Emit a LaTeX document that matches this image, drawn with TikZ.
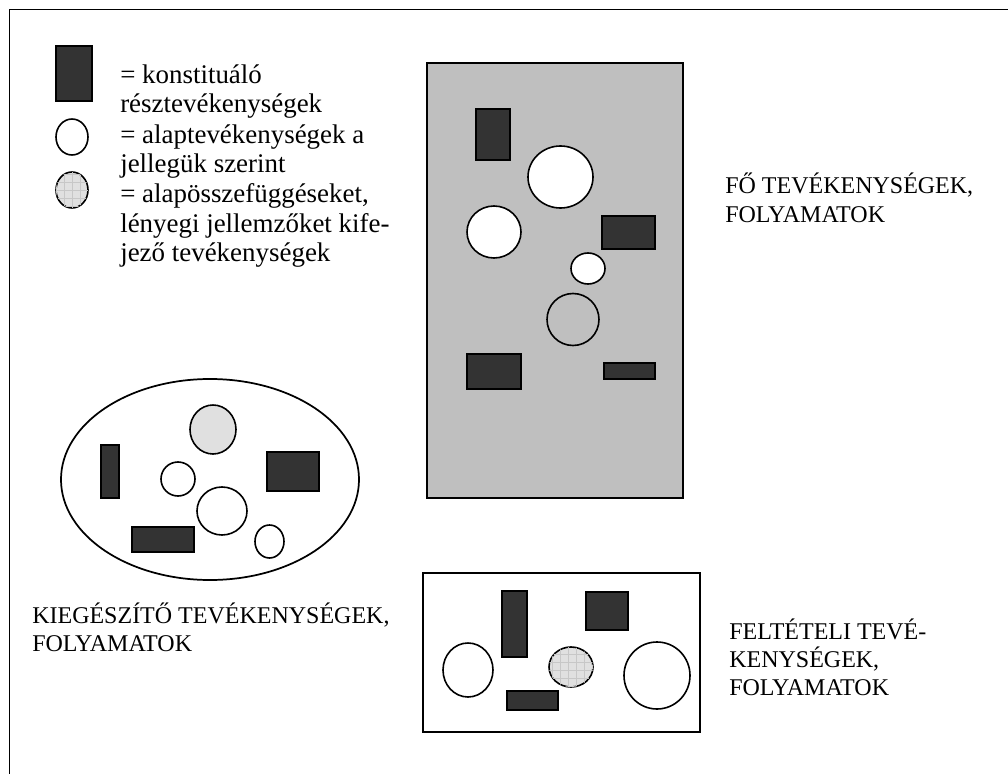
\documentclass[tikz,border=0pt]{standalone}
\usepackage{fontspec}
\setmainfont{Liberation Serif}
\usetikzlibrary{patterns.meta}
\tikzset{
    elem/.style={draw=black, line width=1.2pt},
    konst/.style={elem, fill=black!80},
    alap/.style={elem, fill=white},
    lenyeg/.style={elem, fill=black!12},
    racs/.style={lenyeg, postaction={pattern={Hatch[angle=0,distance=6pt,line width=0.3pt]}, pattern color=black!22}},
    terulet/.style={draw=black, line width=1.3pt},
    felirat/.style={anchor=base west, align=left, inner sep=0pt, font=\fontsize{18}{21}\selectfont},
    jelmagy/.style={felirat, font=\fontsize{20.2}{22.3}\selectfont},
}

\begin{document}
\begin{tikzpicture}[x=0.75pt, y=-0.75pt]
    \useasboundingbox (0,0) rectangle (1008,774);
    \draw[line width=1.3pt] (9.5,800) |- (1030,9.5);
    \draw[konst] (56,46) rectangle (92,101);
    \draw[alap] (72,137) ellipse [x radius=16, y radius=18];
    \draw[racs] (72,190) ellipse [x radius=16, y radius=18];
    \node[jelmagy] (leg1) at (120,113) {= konstituáló\\résztevékenységek};
    \node[jelmagy] (leg2) at (120,173) {= alaptevékenységek a\\jellegük szerint};
    \node[jelmagy] (leg3) at (120,262) {= alapösszefüggéseket,\\lényegi jellemzőket kife-\\jező tevékenységek};
    \draw[terulet, fill=black!25] (427,63) rectangle (683,498);
    \draw[konst] (476,109) rectangle (510,160);
    \draw[alap] (560.5,177) ellipse [x radius=32.5, y radius=31];
    \draw[alap] (494,232) ellipse [x radius=27, y radius=26];
    \draw[konst] (602,216) rectangle (655,249);
    \draw[alap] (588,268.5) ellipse [x radius=17, y radius=15.5];
    \draw[elem] (573,319.5) circle [radius=26];
    \draw[konst] (467,354) rectangle (521,389);
    \draw[konst] (604,363) rectangle (655,379);
    \node[felirat] (fo) at (725,222) {FŐ TEVÉKENYSÉGEK,\\FOLYAMATOK};
    \draw[terulet] (210,479.5) ellipse [x radius=149, y radius=100.5];
    \draw[lenyeg] (213,429.5) ellipse [x radius=23, y radius=24.5];
    \draw[konst] (101,445) rectangle (119,498);
    \draw[alap] (178,479) circle [radius=17];
    \draw[konst] (267,452) rectangle (319,491);
    \draw[alap] (222,511) ellipse [x radius=25, y radius=24];
    \draw[konst] (132,527) rectangle (194,552);
    \draw[alap] (269.5,541.5) ellipse [x radius=14.5, y radius=16.5];
    \node[felirat] (kieg) at (32,651) {KIEGÉSZÍTŐ TEVÉKENYSÉGEK,\\FOLYAMATOK};
    \draw[terulet] (423,573) rectangle (700,732);
    \draw[alap] (468,670) ellipse [x radius=25, y radius=27];
    \draw[konst] (502,591) rectangle (527,657);
    \draw[konst] (507,691) rectangle (558,710);
    \draw[racs] (571,667) ellipse [x radius=22, y radius=20];
    \draw[konst] (586,592) rectangle (628,630);
    \draw[alap] (657,675.5) ellipse [x radius=33, y radius=33.5];
    \node[felirat] (felt) at (729,695) {FELTÉTELI TEVÉ-\\KENYSÉGEK,\\FOLYAMATOK};
\end{tikzpicture}
\end{document}
